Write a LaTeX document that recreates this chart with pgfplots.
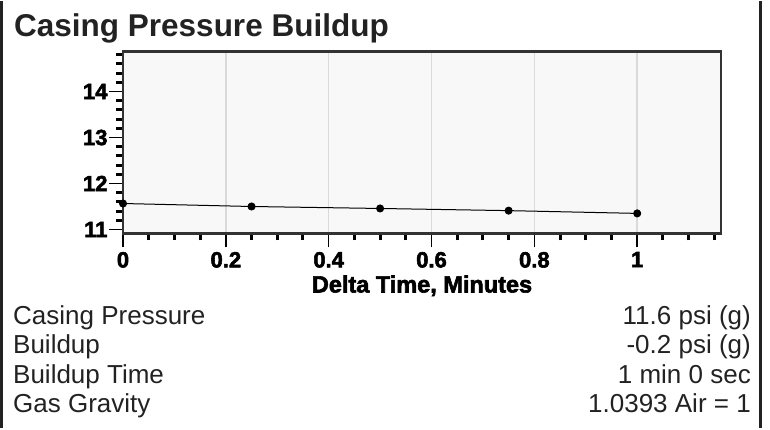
\documentclass[border=0pt]{standalone}
\usepackage{pgfplots}
\pgfplotsset{compat=1.18}
\usepackage{fontspec}
\setmainfont{Liberation Sans}
\newfontfamily\heavyfont[FakeBold=2.5]{Liberation Sans}
\definecolor{txt}{HTML}{222222}
\definecolor{bg}{HTML}{F8F8F8}
\definecolor{gridc}{HTML}{DADADA}
\begin{document}
\begin{tikzpicture}[x=1pt,y=1pt]
\path (0,0) rectangle (770,427);
\draw[line width=3pt,color=txt] (1.5,0) -- (1.5,427);
\draw[line width=3pt,color=txt] (760.5,0) -- (760.5,427);
\node[anchor=base west,inner sep=0pt,text=txt,font=\fontsize{31.5}{31.5}\selectfont\bfseries] at (14,392) {Casing Pressure Buildup};
\begin{axis}[
  at={(123pt,195pt)}, anchor=south west,
  scale only axis, width=598pt, height=182pt,
  xmin=0, xmax=1.163, ymin=10.913, ymax=14.87,
  xtick={0,0.2,0.4,0.6,0.8,1},
  minor xtick={0.05,0.1,0.15,0.25,0.3,0.35,0.45,0.5,0.55,0.65,0.7,0.75,0.85,0.9,0.95,1.05,1.1,1.15},
  ytick={11,12,13,14},
  minor ytick={11.2,11.4,11.6,11.8,12.2,12.4,12.6,12.8,13.2,13.4,13.6,13.8,14.2,14.4,14.6,14.8},
  xtick pos=left, ytick pos=left, tick align=outside,
  major tick length=14pt, minor tick length=7pt,
  every tick/.style={black},
  major tick style={line width=1.6pt},
  minor tick style={line width=3pt},
  xmajorgrids, major x grid style={gridc, line width=1.5pt},
  axis background/.style={fill=bg},
  axis line style={line width=2.4pt, color=black!80},
  /pgf/number format/assume math mode=true,
  tick label style={font=\heavyfont\fontsize{22}{22}\selectfont\bfseries, text=black},
  xticklabel style={yshift=-1pt},
  yticklabel style={xshift=2pt},
  xlabel={Delta Time, Minutes},
  xlabel style={font=\heavyfont\fontsize{23.5}{23.5}\selectfont\bfseries, text=black, yshift=-1pt},
  clip=false,
]
\addplot[black, line width=1pt, mark=*, mark size=3.5pt] coordinates {
  (0,11.565) (0.25,11.50) (0.5,11.457) (0.75,11.41) (1,11.35)
};
\end{axis}
\begin{scope}[every node/.style={inner sep=0pt,text=txt,font=\fontsize{26}{26}\selectfont}]
\node[anchor=base west] at (13,104) {Casing Pressure};
\node[anchor=base west] at (13,74.7) {Buildup};
\node[anchor=base west] at (13,45.4) {Buildup Time};
\node[anchor=base west] at (13,16) {Gas Gravity};
\node[anchor=base east] at (751,104) {11.6 psi (g)};
\node[anchor=base east] at (751,74.7) {-0.2 psi (g)};
\node[anchor=base east] at (751,45.4) {1 min 0 sec};
\node[anchor=base east] at (751,16) {1.0393 Air = 1};
\end{scope}
\end{tikzpicture}
\end{document}
